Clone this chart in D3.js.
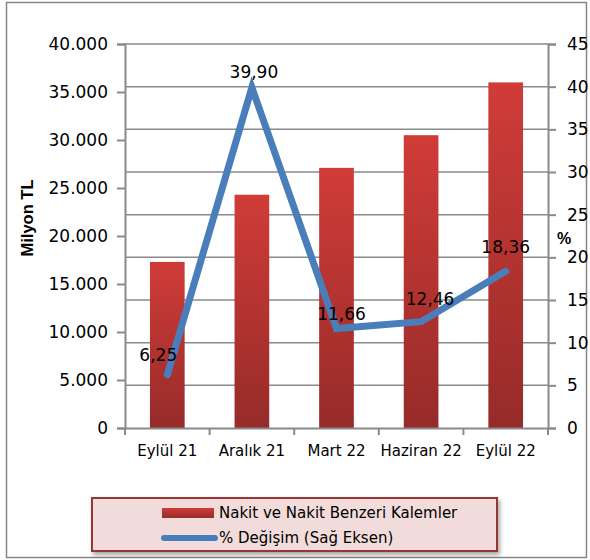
<!DOCTYPE html>
<html>
<head>
<meta charset="utf-8">
<script src="https://cdn.jsdelivr.net/npm/d3@7"></script>
<style>
  body { margin: 0; background: #fff; }
  text { font-family: "DejaVu Sans", "Liberation Sans", sans-serif; fill: #000; }
</style>
</head>
<body>
<script>
// data
const categories = ["Eylül 21", "Aralık 21", "Mart 22", "Haziran 22", "Eylül 22"];
const cashValues = [17300, 24300, 27100, 30500, 36000];
const pctChange = [6.25, 39.90, 11.66, 12.46, 18.36];
const leftTicks = [0, 5000, 10000, 15000, 20000, 25000, 30000, 35000, 40000];
const rightTicks = [0, 5, 10, 15, 20, 25, 30, 35, 40, 45];
const seriesNames = ["Nakit ve Nakit Benzeri Kalemler", "% Değişim (Sağ Eksen)"];

const W = 590, H = 560;
const margin = {top: 44, right: 42, bottom: 132, left: 125},
    width = W - margin.left - margin.right,
    height = H - margin.top - margin.bottom;

const svg = d3.select("body").append("svg")
    .attr("width", W)
    .attr("height", H);

// outer frame
svg.append("rect")
    .attr("x", 6.5).attr("y", 2.5)
    .attr("width", W - 10).attr("height", H - 5)
    .attr("fill", "#fff")
    .attr("stroke", "#868686")
    .attr("stroke-width", 1.5);

const defs = svg.append("defs");
const grad = defs.append("linearGradient")
    .attr("id", "barGrad")
    .attr("x1", 0).attr("y1", 0).attr("x2", 0).attr("y2", 1);
grad.append("stop").attr("offset", "0%").attr("stop-color", "#d03c38");
grad.append("stop").attr("offset", "100%").attr("stop-color", "#962b29");

const shadow = defs.append("filter").attr("id", "shadow")
    .attr("x", "-10%").attr("y", "-10%").attr("width", "130%").attr("height", "140%");
shadow.append("feDropShadow")
    .attr("dx", 2).attr("dy", 3).attr("stdDeviation", 2)
    .attr("flood-color", "#000").attr("flood-opacity", 0.35);

const g = svg.append("g")
    .attr("transform", "translate(" + margin.left + "," + margin.top + ")");

const x = d3.scaleBand()
    .domain(categories)
    .range([0, width])
    .padding(0);

const yLeft = d3.scaleLinear().domain([0, 40000]).range([height, 0]);
const yRight = d3.scaleLinear().domain([0, 45]).range([height, 0]);

// gridlines follow the right axis
g.append("g")
    .selectAll("line")
    .data(rightTicks.slice(1))
    .enter().append("line")
    .attr("x1", 0).attr("x2", width)
    .attr("y1", d => yRight(d)).attr("y2", d => yRight(d))
    .attr("stroke", "#8a8a8a")
    .attr("stroke-width", 1.5);

// bars
const barW = x.bandwidth() * 0.41;
g.append("g")
    .selectAll("rect")
    .data(cashValues)
    .enter().append("rect")
    .attr("x", (d, i) => x(categories[i]) + x.bandwidth() / 2 - barW / 2)
    .attr("y", d => yLeft(d))
    .attr("width", barW)
    .attr("height", d => height - yLeft(d))
    .attr("fill", "url(#barGrad)");

// axes
const fmt = d => d === 0 ? "0" : d3.format(",")(d).replace(/,/g, ".");

const axisLeft = g.append("g")
    .call(d3.axisLeft(yLeft).tickValues(leftTicks).tickFormat(fmt).tickSizeOuter(0).tickSize(8).tickPadding(9));
const axisRight = g.append("g")
    .attr("transform", "translate(" + width + ",0)")
    .call(d3.axisRight(yRight).tickValues(rightTicks).tickSizeOuter(0).tickSize(8).tickPadding(11));
const axisBottom = g.append("g")
    .attr("transform", "translate(0," + height + ")")
    .call(d3.axisBottom(x).tickSize(0).tickSizeOuter(0).tickPadding(17));

// tick marks at category boundaries
axisBottom.selectAll(".boundary")
    .data(d3.range(categories.length + 1))
    .enter().append("line")
    .attr("class", "boundary")
    .attr("x1", i => i * x.bandwidth()).attr("x2", i => i * x.bandwidth())
    .attr("y1", 0).attr("y2", 7);

[axisLeft, axisRight, axisBottom].forEach(a => {
    a.selectAll("path, line").attr("stroke", "#8a8a8a").attr("stroke-width", 2);
    a.selectAll("text")
        .style("font-size", "17px")
        .style("font-family", "'DejaVu Sans', sans-serif")
        .attr("fill", "#000");
});
axisBottom.selectAll("text").style("font-size", "15px");

// line series
const line = d3.line()
    .x((d, i) => x(categories[i]) + x.bandwidth() / 2)
    .y(d => yRight(d));

g.append("path")
    .datum(pctChange)
    .attr("d", line)
    .attr("fill", "none")
    .attr("stroke", "#4a7ebb")
    .attr("stroke-width", 7)
    .attr("stroke-linecap", "round")
    .attr("stroke-linejoin", "miter");

// data labels
const labelOffsets = [[-9, -14], [2, -10], [5, -9], [9, -17], [0, -18]];
g.append("g")
    .selectAll("text")
    .data(pctChange)
    .enter().append("text")
    .attr("x", (d, i) => x(categories[i]) + x.bandwidth() / 2 + labelOffsets[i][0])
    .attr("y", (d, i) => yRight(d) + labelOffsets[i][1])
    .attr("text-anchor", "middle")
    .style("font-size", "17px")
    .text(d => d3.format(".2f")(d).replace(".", ","));

// axis titles
svg.append("text")
    .attr("transform", "translate(33,218) rotate(-90)")
    .attr("text-anchor", "middle")
    .style("font-family", "'Liberation Sans', sans-serif")
    .style("font-size", "16.5px")
    .style("font-weight", "bold")
    .text("Milyon TL");

svg.append("text")
    .attr("x", 557).attr("y", 244)
    .style("font-family", "'Liberation Sans', sans-serif")
    .style("font-size", "16px")
    .style("font-weight", "bold")
    .text("%");

// legend
const legend = svg.append("g");
legend.append("rect")
    .attr("x", 92).attr("y", 498)
    .attr("width", 405).attr("height", 53)
    .attr("fill", "#f2dcdb")
    .attr("stroke", "#953735")
    .attr("stroke-width", 2)
    .attr("filter", "url(#shadow)");

legend.append("rect")
    .attr("x", 162).attr("y", 508)
    .attr("width", 52).attr("height", 10)
    .attr("fill", "url(#barGrad)");
legend.append("line")
    .attr("x1", 164).attr("x2", 215)
    .attr("y1", 538).attr("y2", 538)
    .attr("stroke", "#4a7ebb")
    .attr("stroke-width", 6)
    .attr("stroke-linecap", "round");

legend.selectAll("text.leg")
    .data(seriesNames)
    .enter().append("text")
    .attr("class", "leg")
    .attr("x", 219)
    .attr("y", (d, i) => 518 + i * 25)
    .style("font-size", "15px")
    .text(d => d);
</script>
</body>
</html>
